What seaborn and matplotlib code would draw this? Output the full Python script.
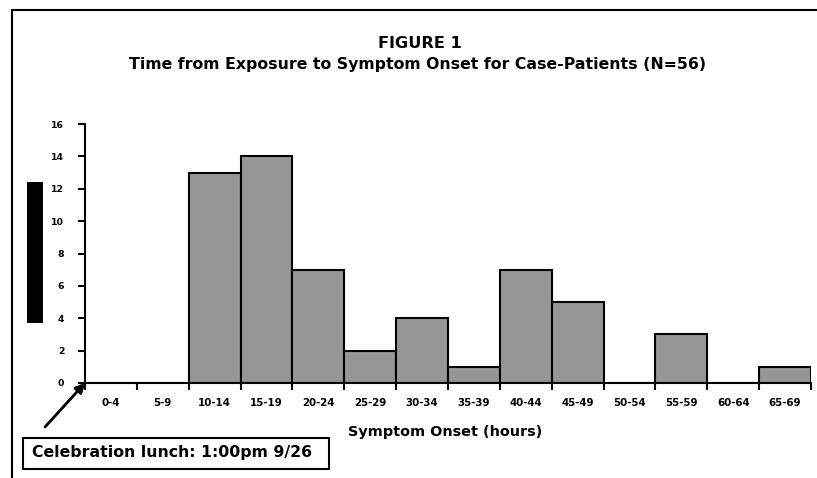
import matplotlib
matplotlib.use("Agg")
import matplotlib.pyplot as plt
from matplotlib.patches import Rectangle
from matplotlib.lines import Line2D
import seaborn as sns
import pandas as pd

categories = ["0-4", "5-9", "10-14", "15-19", "20-24", "25-29", "30-34",
              "35-39", "40-44", "45-49", "50-54", "55-59", "60-64", "65-69"]
counts = [0, 0, 13, 14, 7, 2, 4, 1, 7, 5, 0, 3, 0, 1]
yticks = [0, 2, 4, 6, 8, 10, 12, 14, 16]
title = "FIGURE 1"
subtitle = "Time from Exposure to Symptom Onset for Case-Patients (N=56)"
xlabel = "Symptom Onset (hours)"
note = "Celebration lunch: 1:00pm 9/26"

sns.set_theme(style="white")
plt.rcParams['font.family'] = ['DejaVu Sans']
plt.rcParams['font.weight'] = 'bold'
for k in ['text.color', 'axes.labelcolor', 'xtick.color', 'ytick.color']:
    plt.rcParams[k] = 'black'

W, H = 817, 478
fig = plt.figure(figsize=(W / 100, H / 100), dpi=100)
renderer = fig.canvas.get_renderer()


def fx(px):
    return px / W


def fy(py):
    return 1 - py / H


def fit_size(text, target_px, base=10.0):
    t = fig.text(0, 0, text, fontsize=base, fontweight="bold")
    w = t.get_window_extent(renderer=renderer).width
    t.remove()
    return base * target_px / w


ax = fig.add_axes([fx(85), fy(383), fx(811) - fx(85), fy(124) - fy(383)])

df = pd.DataFrame({"bin": categories, "count": counts})
sns.barplot(data=df, x="bin", y="count", ax=ax, width=1.0, color="#969696",
            saturation=1, edgecolor="black", linewidth=1.5)

ax.set_xlim(-0.5, len(categories) - 0.5)
ax.set_ylim(0, 16)

tick_fs = fit_size("10-14", 33)
ytick_fs = fit_size("16", 13)

ax.set_yticks(yticks)
ax.set_yticklabels([str(v) for v in yticks], fontsize=ytick_fs, fontweight="bold",
                   color="black")

# ticks at bin boundaries, labels at centres
ax.set_xticks([i - 0.5 for i in range(len(categories) + 1)])
ax.set_xticklabels([""] * (len(categories) + 1))
ax.set_xticks(range(len(categories)), minor=True)
ax.set_xticklabels(categories, minor=True, fontsize=tick_fs, fontweight="bold",
                   color="black")
ax.tick_params(axis="x", which="major", direction="out", length=5, width=1.5,
               color="black", bottom=True)
ax.tick_params(axis="x", which="minor", length=0, pad=11, bottom=True)
ax.tick_params(axis="y", direction="out", length=5, width=1.5, color="black",
               left=True, pad=10)

for s in ["top", "right"]:
    ax.spines[s].set_visible(False)
for s in ["left", "bottom"]:
    ax.spines[s].set_color("black")
    ax.spines[s].set_linewidth(1.5)

ax.set_xlabel("")
ax.set_ylabel("")
fig.text(fx(445), fy(432), xlabel, ha="center", va="center", color="black",
         fontsize=fit_size(xlabel, 194), fontweight="bold")

# titles
fig.text(fx(420), fy(43), title, ha="center", va="center", color="black",
         fontsize=fit_size(title, 84), fontweight="bold")
fig.text(fx(418), fy(65), subtitle, ha="center", va="center", color="black",
         fontsize=fit_size(subtitle, 578), fontweight="bold")

# outer frame lines
fig.add_artist(Line2D([fx(12), fx(817)], [fy(10), fy(10)], color="black", lw=1.5))
fig.add_artist(Line2D([fx(12), fx(12)], [fy(10), fy(478)], color="black", lw=1.5))

# black bar (obscured axis label)
fig.add_artist(Rectangle((fx(27), fy(323)), fx(43) - fx(27), fy(182) - fy(323),
                         facecolor="black", edgecolor="none"))

# annotation box
fig.add_artist(Rectangle((fx(23), fy(469)), fx(329) - fx(23), fy(438) - fy(469),
                         facecolor="white", edgecolor="black", lw=1.5))
fig.text(fx(172), fy(453), note, ha="center", va="center", color="black",
         fontsize=fit_size(note, 280), fontweight="bold")
fig.add_artist(plt.annotate("", xy=(fx(85), fy(383)), xytext=(fx(45), fy(427)),
                            xycoords="figure fraction", textcoords="figure fraction",
                            arrowprops=dict(arrowstyle="-|>", color="black", lw=1.8,
                                            mutation_scale=14, shrinkA=0, shrinkB=0)))

fig.savefig("out.png", dpi=100)
